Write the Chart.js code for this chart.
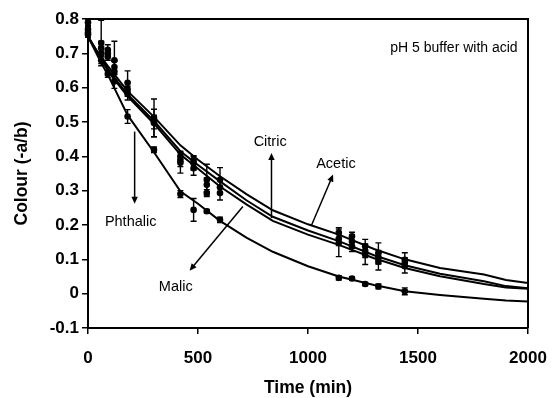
<!DOCTYPE html>
<html><head><meta charset="utf-8">
<script src="https://cdn.jsdelivr.net/npm/chart.js@4.4.1/dist/chart.umd.min.js"></script>
<style>html,body{margin:0;padding:0;background:#fff;}</style>
</head><body>
<canvas id="c" width="552" height="398"></canvas>
<script>
// ---- data ----
const sampleTimes = [0, 60, 90, 120, 180, 300, 420, 480, 540, 600, 1140, 1200, 1260, 1320, 1440];
const aceticPts   = [0.79, 0.73, 0.71, 0.68, 0.614, 0.512, 0.40, 0.39, 0.332, 0.332, 0.177, 0.167, 0.138, 0.118, 0.099];
const aceticErr   = [0.008, 0.066, 0.015, 0.055, 0.035, 0.055, 0.015, 0.012, 0.045, 0.035, 0.015, 0.012, 0.02, 0.03, 0.02];
const citricPts   = [0.77, 0.715, 0.70, 0.66, 0.595, 0.50, 0.39, 0.38, 0.317, 0.31, 0.16, 0.152, 0.125, 0.106, 0.09];
const citricErr   = [0.008, 0.02, 0.01, 0.02, 0.02, 0.02, 0.02, 0.02, 0.02, 0.02, 0.02, 0.02, 0.02, 0.02, 0.015];
const malicPts    = [0.755, 0.70, 0.69, 0.647, 0.584, 0.497, 0.381, 0.365, 0.293, 0.293, 0.148, 0.138, 0.113, 0.094, 0.08];
const malicErr    = [0.008, 0.02, 0.01, 0.03, 0.02, 0.04, 0.03, 0.02, 0.01, 0.02, 0.04, 0.015, 0.028, 0.025, 0.02];
const phthalicPts = [0.76, 0.68, 0.64, 0.618, 0.516, 0.419, 0.29, 0.244, 0.24, 0.215, 0.046, 0.044, 0.028, 0.021, 0.007];
const phthalicErr = [0.008, 0.01, 0.01, 0.02, 0.02, 0.008, 0.01, 0.033, 0.005, 0.008, 0.006, 0.005, 0.005, 0.007, 0.01];

const curveTimes    = [0, 50, 100, 180, 300, 420, 500, 600, 720, 840, 1000, 1140, 1300, 1440, 1600, 1800, 1900, 2000];
const aceticCurve   = [0.749, 0.697, 0.655, 0.59, 0.515, 0.432, 0.39, 0.342, 0.29, 0.243, 0.202, 0.172, 0.13, 0.1, 0.075, 0.056, 0.04, 0.031];
const citricCurve   = [0.749, 0.695, 0.645, 0.58, 0.503, 0.415, 0.375, 0.327, 0.272, 0.224, 0.184, 0.153, 0.112, 0.083, 0.058, 0.036, 0.022, 0.016];
const malicCurve    = [0.749, 0.693, 0.64, 0.575, 0.495, 0.405, 0.364, 0.312, 0.26, 0.212, 0.172, 0.142, 0.103, 0.075, 0.051, 0.028, 0.018, 0.014];
const phthalicCurve = [0.749, 0.685, 0.625, 0.52, 0.412, 0.298, 0.262, 0.212, 0.163, 0.122, 0.08, 0.05, 0.025, 0.007, -0.004, -0.015, -0.02, -0.023];

const xTicks = [0, 500, 1000, 1500, 2000];
const yTicks = [-0.1, 0, 0.1, 0.2, 0.3, 0.4, 0.5, 0.6, 0.7, 0.8];
const yTickLabels = ['-0.1', '0', '0.1', '0.2', '0.3', '0.4', '0.5', '0.6', '0.7', '0.8'];
const xTickLabels = ['0', '500', '1000', '1500', '2000'];

// annotation labels with arrows (data coordinates)
const annotations = [
  {text: 'Phthalic', tx: 194, ty: 0.196, from: [212, 0.472], to: [212, 0.262]},
  {text: 'Malic',    tx: 399, ty: 0.007, from: [704, 0.254], to: [462, 0.067]},
  {text: 'Citric',   tx: 828, ty: 0.429, from: [834, 0.220], to: [834, 0.410]},
  {text: 'Acetic',   tx: 1127, ty: 0.366, from: [1015, 0.198], to: [1114, 0.347]}
];
const noteText = 'pH 5 buffer with acid';
const notePos = [1953, 0.705];

// ---- build datasets ----
const FONT = '"Liberation Sans", Arial, sans-serif';
const toXY = (xs, ys) => xs.map((x, i) => ({x: x, y: ys[i]}));
function curveDs(ys) {
  return {data: toXY(curveTimes, ys), showLine: true, pointRadius: 0, borderColor: '#000',
          borderWidth: 2, tension: 0, fill: false};
}
function ptsDs(ys, err) {
  return {data: toXY(sampleTimes, ys), showLine: false, pointRadius: 3.3, pointBackgroundColor: '#000',
          pointBorderColor: '#000', borderWidth: 0, err: err, clip: false};
}

const errorBars = {
  id: 'errorBars',
  afterDatasetsDraw(chart) {
    const ctx = chart.ctx, ys = chart.scales.y;
    ctx.save();
    ctx.strokeStyle = '#000'; ctx.lineWidth = 1.4;
    chart.data.datasets.forEach((ds, i) => {
      if (!ds.err) return;
      const meta = chart.getDatasetMeta(i);
      meta.data.forEach((pt, j) => {
        const v = ds.data[j].y, e = ds.err[j];
        const yt = ys.getPixelForValue(v + e), yb = ys.getPixelForValue(v - e);
        ctx.beginPath();
        ctx.moveTo(pt.x, yt); ctx.lineTo(pt.x, yb);
        ctx.moveTo(pt.x - 3, yt); ctx.lineTo(pt.x + 3, yt);
        ctx.moveTo(pt.x - 3, yb); ctx.lineTo(pt.x + 3, yb);
        ctx.stroke();
      });
    });
    ctx.restore();
  }
};

const frameAndNotes = {
  id: 'frameAndNotes',
  afterDraw(chart) {
    const ctx = chart.ctx, a = chart.chartArea, xs = chart.scales.x, ys = chart.scales.y;
    ctx.save();
    ctx.strokeStyle = '#000'; ctx.lineWidth = 2;
    ctx.beginPath();
    ctx.moveTo(a.left, a.top); ctx.lineTo(a.right, a.top); ctx.lineTo(a.right, a.bottom);
    ctx.stroke();
    ctx.fillStyle = '#000';
    ctx.font = '14.5px ' + FONT;
    ctx.textAlign = 'center'; ctx.textBaseline = 'alphabetic';
    annotations.forEach(n => {
      ctx.fillText(n.text, xs.getPixelForValue(n.tx), ys.getPixelForValue(n.ty));
      const x1 = xs.getPixelForValue(n.from[0]), y1 = ys.getPixelForValue(n.from[1]);
      const x2 = xs.getPixelForValue(n.to[0]), y2 = ys.getPixelForValue(n.to[1]);
      const ang = Math.atan2(y2 - y1, x2 - x1), L = 7, W = 3.2;
      ctx.lineWidth = 1.5;
      ctx.beginPath(); ctx.moveTo(x1, y1);
      ctx.lineTo(x2 - Math.cos(ang) * L * 0.8, y2 - Math.sin(ang) * L * 0.8); ctx.stroke();
      ctx.beginPath();
      ctx.moveTo(x2, y2);
      ctx.lineTo(x2 - L * Math.cos(ang) + W * Math.sin(ang), y2 - L * Math.sin(ang) - W * Math.cos(ang));
      ctx.lineTo(x2 - L * Math.cos(ang) - W * Math.sin(ang), y2 - L * Math.sin(ang) + W * Math.cos(ang));
      ctx.closePath(); ctx.fill();
    });
    ctx.font = '14px ' + FONT;
    ctx.textAlign = 'right';
    ctx.fillText(noteText, xs.getPixelForValue(notePos[0]), ys.getPixelForValue(notePos[1]));
    ctx.restore();
  }
};

new Chart(document.getElementById('c'), {
  type: 'scatter',
  data: {datasets: [
    curveDs(aceticCurve), curveDs(citricCurve), curveDs(malicCurve), curveDs(phthalicCurve),
    ptsDs(aceticPts, aceticErr), ptsDs(citricPts, citricErr), ptsDs(malicPts, malicErr), ptsDs(phthalicPts, phthalicErr)
  ]},
  options: {
    responsive: false, animation: false, devicePixelRatio: 1,
    layout: {padding: {top: 19, right: 24, left: 0, bottom: 0}},
    plugins: {legend: {display: false}, tooltip: {enabled: false}},
    scales: {
      x: {
        type: 'linear', min: 0, max: 2000,
        afterBuildTicks: s => { s.ticks = xTicks.map(v => ({value: v})); },
        afterFit: s => { s.height = 70; s.paddingLeft = 0; s.paddingRight = 0; },
        ticks: {color: '#000', padding: 14, maxRotation: 0, autoSkip: false,
                font: {family: FONT, size: 17, weight: 'bold'},
                callback: (v) => xTickLabels[xTicks.indexOf(v)]},
        grid: {display: true, drawOnChartArea: false, drawTicks: true, tickLength: 6, color: '#000', lineWidth: 1.5},
        border: {display: true, color: '#000', width: 2},
        title: {display: true, text: 'Time (min)', color: '#000', padding: {top: 0, bottom: -1},
                font: {family: FONT, size: 17.5, weight: 'bold'}}
      },
      y: {
        type: 'linear', min: -0.1, max: 0.8,
        afterBuildTicks: s => { s.ticks = yTicks.map(v => ({value: v})); },
        afterFit: s => { s.width = 88; s.paddingTop = 0; s.paddingBottom = 0; },
        ticks: {color: '#000', padding: 3, autoSkip: false,
                font: {family: FONT, size: 17, weight: 'bold'},
                callback: (v) => yTickLabels[yTicks.findIndex(t => Math.abs(t - v) < 1e-9)]},
        grid: {display: true, drawOnChartArea: false, drawTicks: true, tickLength: 6, color: '#000', lineWidth: 1.5},
        border: {display: true, color: '#000', width: 2},
        title: {display: true, text: 'Colour (-a/b)', color: '#000', padding: {top: 12, bottom: 0},
                font: {family: FONT, size: 17.5, weight: 'bold'}}
      }
    }
  },
  plugins: [errorBars, frameAndNotes]
});
</script>
</body></html>
